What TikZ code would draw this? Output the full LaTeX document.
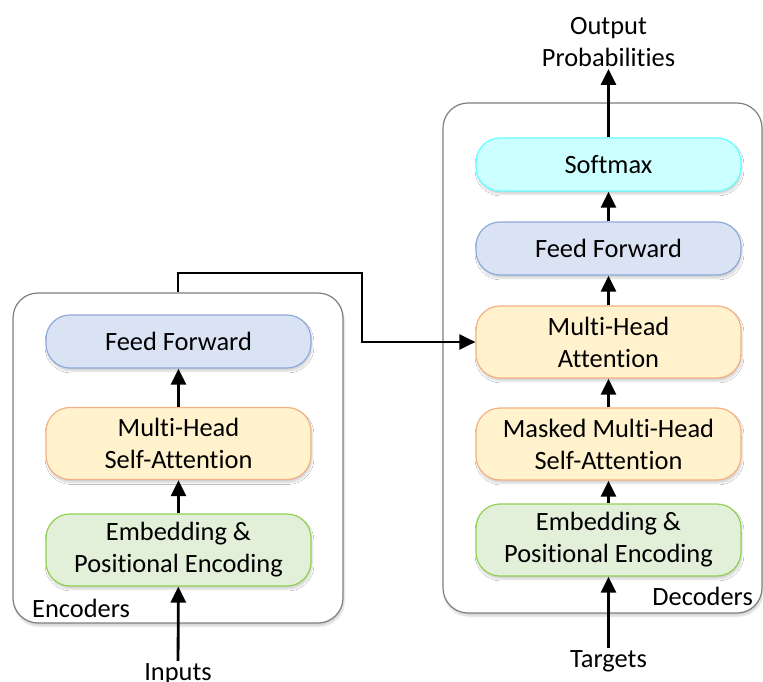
\documentclass[tikz,border=0pt]{standalone}
\usepackage{fontspec}
\setmainfont{Carlito}[Ligatures=NoCommon]
\usetikzlibrary{arrows.meta,shadows.blur}

\definecolor{ffFill}{HTML}{DAE3F3}
\definecolor{ffLine}{HTML}{8FAADC}
\definecolor{attFill}{HTML}{FFF2CC}
\definecolor{attLine}{HTML}{F4B183}
\definecolor{embFill}{HTML}{E2F0D9}
\definecolor{embLine}{HTML}{92D050}
\definecolor{softFill}{HTML}{CCFFFF}
\definecolor{softLine}{HTML}{66FFFF}
\definecolor{frameLine}{HTML}{7F7F7F}

\tikzset{
  softshadow/.style={blur shadow={shadow xshift=1pt,shadow yshift=-3pt,shadow opacity=18,shadow blur steps=6}},
  frame/.style={draw=frameLine, fill=white, line width=1.2pt, rounded corners=25pt, softshadow},
  block/.style={draw, line width=1.2pt, rounded corners=24pt, minimum width=265pt,
    inner sep=0pt, align=center, font=\fontsize{26.4}{32}\selectfont, softshadow},
  ffblock/.style={block, fill=ffFill, draw=ffLine, minimum height=53pt},
  softblock/.style={block, fill=softFill, draw=softLine, minimum height=53pt},
  attblock/.style={block, fill=attFill, draw=attLine, minimum height=72pt},
  embblock/.style={block, fill=embFill, draw=embLine, minimum height=72pt},
  lbl/.style={inner sep=2pt, align=center, font=\fontsize{26.4}{32}\selectfont},
  arr/.style={line width=2.8pt, -{Triangle[length=16pt,width=15pt]}},
  link/.style={line width=2.2pt, -{Triangle[length=16pt,width=15pt]}}
}

\begin{document}
\begin{tikzpicture}[x=1pt,y=-1pt]
  \useasboundingbox (0,0) rectangle (763,682);

  % encoder and decoder frames
  \node[frame, minimum width=330pt, minimum height=330pt] (ebox) at (178,458) {};
  \node[frame, minimum width=319pt, minimum height=510pt] (dbox) at (602.5,358) {};

  % encoder stack
  \node[ffblock]  (eff)  at (178.5,341.5) {Feed Forward};
  \node[attblock] (eatt) at (178.5,443.5) {Multi-Head\\Self-Attention};
  \node[embblock] (eemb) at (178.5,550)   {Embedding \&\\Positional Encoding};

  % decoder stack
  \node[softblock] (dsoft) at (608.5,164.5) {Softmax};
  \node[ffblock]   (dff)   at (608.5,248.5) {Feed Forward};
  \node[attblock]  (datt)  at (608.5,342)   {Multi-Head\\Attention};
  \node[attblock]  (dmask) at (608.5,444)   {Masked Multi-Head\\Self-Attention};
  \node[embblock]  (demb)  at (608.5,540)   {Embedding \&\\Positional Encoding};

  % labels
  \node[lbl, anchor=base west] (enclbl) at (30,617) {Encoders};
  \node[lbl, anchor=base east] (declbl) at (755,605) {Decoders};
  \node[lbl, anchor=base]  (inputs)  at (178,680)   {Inputs};
  \node[lbl, anchor=base]  (targets) at (608.5,667) {Targets};
  \node[lbl, anchor=south] (outprob) at (608.5,69)  {Output\\Probabilities};

  % data flow
  \draw[arr] (inputs) -- (eemb);
  \draw[arr] (eemb) -- (eatt);
  \draw[arr] (eatt) -- (eff);
  \draw[arr] (targets) -- (demb);
  \draw[arr] (demb) -- (dmask);
  \draw[arr] (dmask) -- (datt);
  \draw[arr] (datt) -- (dff);
  \draw[arr] (dff) -- (dsoft);
  \draw[arr] (dsoft) -- (outprob);

  % encoder output into decoder attention
  \coordinate (bend) at (362,273);
  \draw[link] (ebox.north) |- (bend) |- (datt.west);
\end{tikzpicture}
\end{document}
